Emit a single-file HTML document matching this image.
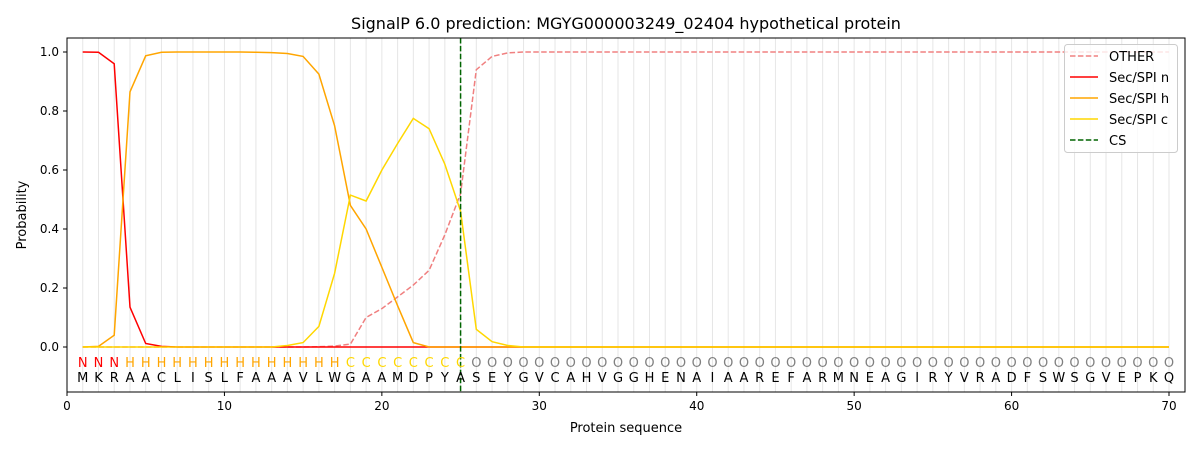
<!DOCTYPE html>
<html><head><meta charset="utf-8"><style>
html,body{margin:0;padding:0;background:#fff;}
svg{display:block;font-family:"DejaVu Sans","Liberation Sans",sans-serif;}
</style></head><body>
<svg id="s" width="1200" height="450" xmlns="http://www.w3.org/2000/svg"></svg>
<script>
const X=v=>67+v*15.743, Y=v=>347-v*295;
let h='';
h+='<rect width="1200" height="450" fill="#fff"/>';
for(let i=1;i<=70;i++)h+=`<line x1="${X(i)}" y1="38" x2="${X(i)}" y2="392" stroke="#e6e6e6" stroke-width="1"/>`;
const other=[0,0,0,0,0,0,0,0,0,0,0,0,0,0,0,0.001,0.003,0.01,0.1,0.13,0.17,0.21,0.26,0.38,0.52,0.94,0.985,0.997];
const n=[1,0.999,0.96,0.135,0.012,0.002];
const hh=[0,0.002,0.04,0.865,0.987,0.999,1,1,1,1,1,0.999,0.998,0.995,0.985,0.925,0.75,0.48,0.4,0.27,0.14,0.015];
const c=[0,0,0,0,0,0,0,0,0,0,0,0,0,0.005,0.015,0.07,0.25,0.515,0.495,0.6,0.69,0.775,0.74,0.62,0.46,0.06,0.018,0.005];
function line(arr,fill,col,extra){let p=[];for(let i=1;i<=70;i++){let v=i<=arr.length?arr[i-1]:fill;p.push(X(i).toFixed(1)+','+Y(v).toFixed(1));}
return `<polyline points="${p.join(' ')}" fill="none" stroke="${col}" stroke-width="1.5" ${extra||''}/>`;}
h+=line(other,1,'#f08080','stroke-dasharray="5.5,2.4"');
h+=line(n,0,'#ff0000');
h+=line(hh,0,'#ffa500');
h+=line(c,0,'#ffd700');
h+=`<line x1="${X(25)}" y1="38" x2="${X(25)}" y2="392" stroke="#006400" stroke-width="1.5" stroke-dasharray="5.5,2.4"/>`;
const seq="MKRAACLISLFAAAVLWGAAMDPYASEYGVCAHVGGHENAIAAREFARMNEAGIRYVRADFSWSGVEPKQ";
for(let i=1;i<=70;i++){let lab,col;if(i<=3){lab='N';col='#ff0000'}else if(i<=17){lab='H';col='#ffa500'}else if(i<=25){lab='C';col='#ffd700'}else{lab='O';col='#808080'}
h+=`<text x="${X(i)}" y="367" font-size="13" text-anchor="middle" fill="${col}">${lab}</text>`;
h+=`<text x="${X(i)}" y="382" font-size="13" text-anchor="middle" fill="#000">${seq[i-1]}</text>`;}
h+='<rect x="67" y="38" width="1118" height="354" fill="none" stroke="#000" stroke-width="1"/>';
for(let t=0;t<=70;t+=10){h+=`<line x1="${X(t)}" y1="392" x2="${X(t)}" y2="396" stroke="#000"/><text x="${X(t)}" y="410" font-size="12" text-anchor="middle">${t}</text>`;}
for(let k=0;k<=5;k++){let v=k*0.2;h+=`<line x1="63" y1="${Y(v)}" x2="67" y2="${Y(v)}" stroke="#000"/><text x="59" y="${Y(v)+4}" font-size="12" text-anchor="end">${v.toFixed(1)}</text>`;}
h+='<text x="626" y="432" font-size="13" text-anchor="middle">Protein sequence</text>';
h+='<text transform="translate(26,215) rotate(-90)" font-size="13" text-anchor="middle">Probability</text>';
h+='<text x="626" y="29" font-size="16" text-anchor="middle">SignalP 6.0 prediction: MGYG000003249_02404 hypothetical protein</text>';
h+='<rect x="1064.5" y="44.5" width="113" height="108" rx="3" fill="#fff" fill-opacity="0.8" stroke="#ccc"/>';
const lg=[['OTHER','#f08080',1],['Sec/SPI n','#ff0000',0],['Sec/SPI h','#ffa500',0],['Sec/SPI c','#ffd700',0],['CS','#006400',1]];
lg.forEach((e,i)=>{let y=56+i*21;h+=`<line x1="1070" y1="${y}" x2="1098" y2="${y}" stroke="${e[1]}" stroke-width="1.5" ${e[2]?'stroke-dasharray="5.5,2.4"':''}/><text x="1109" y="${y+5}" font-size="13">${e[0]}</text>`;});
document.getElementById('s').innerHTML=h;
</script>
</body></html>
